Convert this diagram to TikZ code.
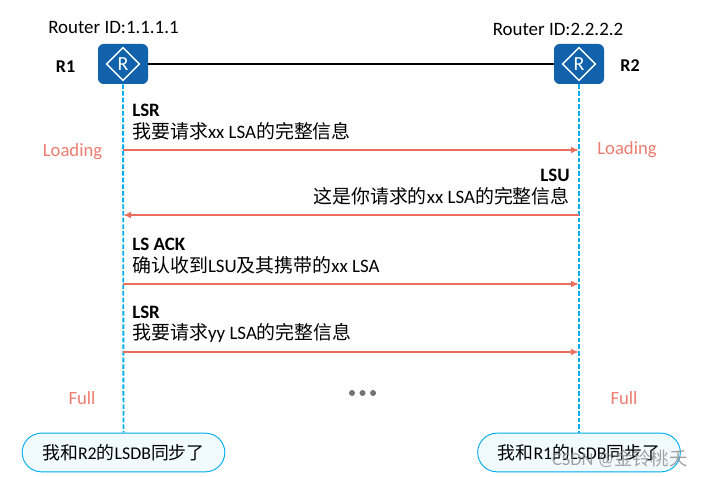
\documentclass[tikz,border=0pt]{standalone}
\usepackage{fontspec}
\setmainfont{Carlito}
\newfontfamily\cjk{Noto Sans CJK SC}
\usetikzlibrary{shapes.geometric, positioning, arrows.meta, backgrounds}
\definecolor{routerblue}{RGB}{17, 98, 171}
\definecolor{lifeblue}{RGB}{0, 174, 239}
\definecolor{msgred}{RGB}{235, 110, 95}
\definecolor{pillfill}{RGB}{241, 250, 254}

\begin{document}
\begin{tikzpicture}[x=0.75pt, y=-0.75pt,
  router/.style={rectangle, rounded corners=1.5mm, fill=routerblue, minimum width=37.5pt, minimum height=30pt, inner sep=0pt},
  routermark/.style={diamond, draw=white, line width=1.1pt, minimum width=25pt, minimum height=25pt, inner sep=0pt, text=white, font=\fontsize{15}{15}\selectfont},
  idlabel/.style={font=\fontsize{14.2}{16}\selectfont, inner sep=0pt},
  rname/.style={font=\fontsize{13.5}{15}\selectfont\bfseries, inner sep=0pt},
  state/.style={font=\fontsize{14}{16}\selectfont, text=msgred!90!white, inner sep=0pt},
  msgleft/.style={align=left, anchor=south west, inner sep=0pt, font=\fontsize{14.2}{16.2}\selectfont},
  msgright/.style={align=right, anchor=south east, inner sep=0pt, font=\fontsize{14.2}{16.2}\selectfont},
  pill/.style={rectangle, rounded corners=14.5pt, draw=lifeblue, fill=pillfill, line width=0.7pt, minimum width=152pt, minimum height=29pt, inner sep=0pt, font=\fontsize{13.4}{15}\selectfont},
  lifeline/.style={lifeblue, line width=1.4pt, dash pattern=on 3.5pt off 1.5pt},
  link/.style={-{Latex[length=6pt,width=5pt]}, msgred, line width=1.4pt},
  dotmark/.style={circle, fill=black!55, inner sep=0pt, minimum size=4.5pt}
]
  \useasboundingbox (0,0) rectangle (703,477);

  \node[router] (r1) at (123,64) {};
  \node[router] (r2) at (579,64) {};
  \node[routermark] (r1mark) at (r1) {R};
  \node[routermark] (r2mark) at (r2) {R};
  \node[idlabel] (r1id) at (113.5,27) {Router ID:1.1.1.1};
  \node[idlabel] (r2id) at (558,29) {Router ID:2.2.2.2};
  \node[rname] (r1name) at (65.5,67) {R1};
  \node[rname] (r2name) at (630,66) {R2};

  \node[pill] (sync1) at (123.5,452.5) {\cjk 我和\rmfamily R2\cjk 的\rmfamily LSDB\cjk 同步了};
  \node[pill] (sync2) at (579,452.5) {\cjk 我和\rmfamily R1\cjk 的\rmfamily LSDB\cjk 同步了};

  % lifelines
  \begin{scope}[on background layer]
    \draw[line width=1.4pt] (r1) -- (r2);
    \draw[lifeline] (r1) -- (sync1);
    \draw[lifeline] (r2) -- (sync2);
  \end{scope}

  % messages
  \coordinate (a1) at (123,150);
  \coordinate (b1) at (579,150);
  \coordinate (a2) at (123,215);
  \coordinate (b2) at (579,215);
  \coordinate (a3) at (123,284);
  \coordinate (b3) at (579,284);
  \coordinate (a4) at (123,352);
  \coordinate (b4) at (579,352);

  \draw[link] (a1) -- (b1);
  \draw[link] (b2) -- (a2);
  \draw[link] (a3) -- (b3);
  \draw[link] (a4) -- (b4);

  \node[msgleft] (lsr1) at (132,140) {\textbf{LSR}\\{\cjk 我要请求}xx LSA{\cjk 的完整信息}};
  \node[msgright] (lsu) at (570,205) {\textbf{LSU}\\{\cjk 这是你请求的}xx LSA{\cjk 的完整信息}};
  \node[msgleft] (ack) at (132,274) {\textbf{LS ACK}\\{\cjk 确认收到}LSU{\cjk 及其携带的}xx LSA};
  \node[msgleft] (lsr2) at (132,343) {\textbf{LSR}\\{\cjk 我要请求}yy LSA{\cjk 的完整信息}};

  \node[state] (load1) at (72.5,152) {Loading};
  \node[state] (load2) at (627,150) {Loading};
  \node[state] (full1) at (82,398) {Full};
  \node[state] (full2) at (624,398) {Full};

  \node[dotmark] (dot1) at (352,393) {};
  \node[dotmark, right=3pt of dot1] (dot2) {};
  \node[dotmark, right=3pt of dot2] (dot3) {};

  \node[text=black!45, opacity=0.8, font=\fontsize{13.8}{15}\selectfont, inner sep=0pt, anchor=east] (mark) at (688,459) {CSDN @{\cjk 金铃桃夭}};
\end{tikzpicture}
\end{document}
